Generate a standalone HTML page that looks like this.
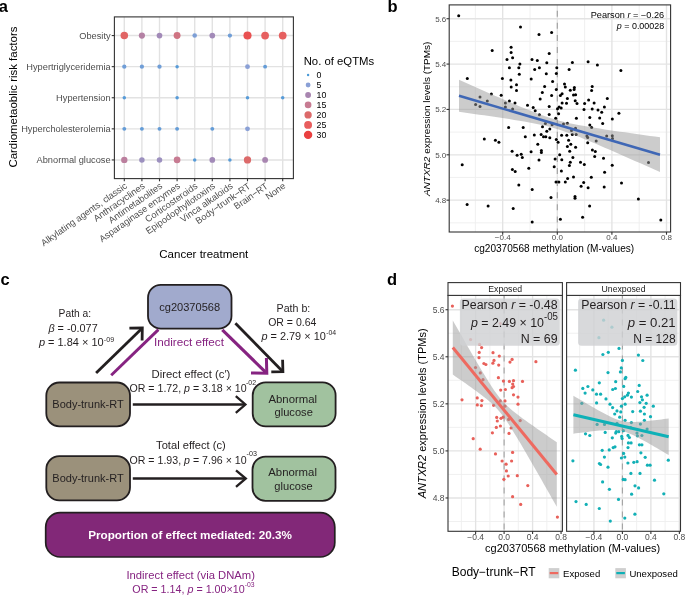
<!DOCTYPE html>
<html><head><meta charset="utf-8"><style>
html,body{margin:0;padding:0;background:#fff;}
body{width:685px;height:596px;overflow:hidden;}
svg{display:block;font-family:"Liberation Sans", sans-serif;will-change:transform;}
</style></head><body>
<svg width="685" height="596" viewBox="0 0 685 596">
<rect width="685" height="596" fill="#fff"/>
<g id="pa">
<text x="-1.20" y="11.80" font-size="16.5" text-anchor="start" fill="#000" font-weight="bold" font-style="normal">a</text>
<rect x="114.4" y="16.9" width="178.99999999999997" height="161.7" fill="#fff"/>
<line x1="124.30" y1="16.9" x2="124.30" y2="178.6" stroke="#e2e2e2" stroke-width="1.4"/>
<line x1="141.90" y1="16.9" x2="141.90" y2="178.6" stroke="#e2e2e2" stroke-width="1.4"/>
<line x1="159.50" y1="16.9" x2="159.50" y2="178.6" stroke="#e2e2e2" stroke-width="1.4"/>
<line x1="177.10" y1="16.9" x2="177.10" y2="178.6" stroke="#e2e2e2" stroke-width="1.4"/>
<line x1="194.70" y1="16.9" x2="194.70" y2="178.6" stroke="#e2e2e2" stroke-width="1.4"/>
<line x1="212.30" y1="16.9" x2="212.30" y2="178.6" stroke="#e2e2e2" stroke-width="1.4"/>
<line x1="229.90" y1="16.9" x2="229.90" y2="178.6" stroke="#e2e2e2" stroke-width="1.4"/>
<line x1="247.50" y1="16.9" x2="247.50" y2="178.6" stroke="#e2e2e2" stroke-width="1.4"/>
<line x1="265.10" y1="16.9" x2="265.10" y2="178.6" stroke="#e2e2e2" stroke-width="1.4"/>
<line x1="282.70" y1="16.9" x2="282.70" y2="178.6" stroke="#e2e2e2" stroke-width="1.4"/>
<line x1="114.4" y1="35.56" x2="293.4" y2="35.56" stroke="#e2e2e2" stroke-width="1.4"/>
<line x1="114.4" y1="66.65" x2="293.4" y2="66.65" stroke="#e2e2e2" stroke-width="1.4"/>
<line x1="114.4" y1="97.75" x2="293.4" y2="97.75" stroke="#e2e2e2" stroke-width="1.4"/>
<line x1="114.4" y1="128.85" x2="293.4" y2="128.85" stroke="#e2e2e2" stroke-width="1.4"/>
<line x1="114.4" y1="159.94" x2="293.4" y2="159.94" stroke="#e2e2e2" stroke-width="1.4"/>
<circle cx="124.30" cy="35.56" r="3.77" fill="#e16565"/>
<circle cx="141.90" cy="35.56" r="3.10" fill="#b481a4"/>
<circle cx="159.50" cy="35.56" r="2.84" fill="#a28ab8"/>
<circle cx="177.10" cy="35.56" r="3.46" fill="#cf7482"/>
<circle cx="194.70" cy="35.56" r="2.30" fill="#7d9fd6"/>
<circle cx="212.30" cy="35.56" r="2.84" fill="#a28ab8"/>
<circle cx="229.90" cy="35.56" r="2.15" fill="#709ed7"/>
<circle cx="247.50" cy="35.56" r="4.05" fill="#e95151"/>
<circle cx="265.10" cy="35.56" r="3.88" fill="#e66060"/>
<circle cx="282.70" cy="35.56" r="3.88" fill="#e66060"/>
<circle cx="124.30" cy="66.65" r="2.15" fill="#709ed7"/>
<circle cx="141.90" cy="66.65" r="2.15" fill="#709ed7"/>
<circle cx="159.50" cy="66.65" r="2.15" fill="#709ed7"/>
<circle cx="177.10" cy="66.65" r="1.75" fill="#579bd8"/>
<circle cx="247.50" cy="66.65" r="2.42" fill="#8aa0d6"/>
<circle cx="265.10" cy="66.65" r="1.97" fill="#649cd7"/>
<circle cx="124.30" cy="97.75" r="1.75" fill="#579bd8"/>
<circle cx="177.10" cy="97.75" r="1.75" fill="#579bd8"/>
<circle cx="247.50" cy="97.75" r="1.75" fill="#579bd8"/>
<circle cx="282.70" cy="97.75" r="1.75" fill="#579bd8"/>
<circle cx="124.30" cy="128.85" r="1.97" fill="#649cd7"/>
<circle cx="141.90" cy="128.85" r="1.97" fill="#649cd7"/>
<circle cx="159.50" cy="128.85" r="1.97" fill="#649cd7"/>
<circle cx="177.10" cy="128.85" r="1.97" fill="#649cd7"/>
<circle cx="212.30" cy="128.85" r="1.97" fill="#649cd7"/>
<circle cx="247.50" cy="128.85" r="2.42" fill="#8aa0d6"/>
<circle cx="124.30" cy="159.94" r="3.17" fill="#bb7f9e"/>
<circle cx="141.90" cy="159.94" r="2.75" fill="#9c90bf"/>
<circle cx="159.50" cy="159.94" r="2.75" fill="#9c90bf"/>
<circle cx="177.10" cy="159.94" r="3.32" fill="#c77b92"/>
<circle cx="194.70" cy="159.94" r="1.75" fill="#579bd8"/>
<circle cx="212.30" cy="159.94" r="2.84" fill="#a28ab8"/>
<circle cx="229.90" cy="159.94" r="1.75" fill="#579bd8"/>
<circle cx="247.50" cy="159.94" r="3.65" fill="#dc6a6a"/>
<circle cx="265.10" cy="159.94" r="2.93" fill="#a885b0"/>
<rect x="114.4" y="16.9" width="178.99999999999997" height="161.7" fill="none" stroke="#333" stroke-width="1.1"/>
<line x1="111.7" y1="35.56" x2="114.4" y2="35.56" stroke="#333" stroke-width="1.1"/>
<line x1="111.7" y1="66.65" x2="114.4" y2="66.65" stroke="#333" stroke-width="1.1"/>
<line x1="111.7" y1="97.75" x2="114.4" y2="97.75" stroke="#333" stroke-width="1.1"/>
<line x1="111.7" y1="128.85" x2="114.4" y2="128.85" stroke="#333" stroke-width="1.1"/>
<line x1="111.7" y1="159.94" x2="114.4" y2="159.94" stroke="#333" stroke-width="1.1"/>
<line x1="124.30" y1="178.6" x2="124.30" y2="181.29999999999998" stroke="#333" stroke-width="1.1"/>
<line x1="141.90" y1="178.6" x2="141.90" y2="181.29999999999998" stroke="#333" stroke-width="1.1"/>
<line x1="159.50" y1="178.6" x2="159.50" y2="181.29999999999998" stroke="#333" stroke-width="1.1"/>
<line x1="177.10" y1="178.6" x2="177.10" y2="181.29999999999998" stroke="#333" stroke-width="1.1"/>
<line x1="194.70" y1="178.6" x2="194.70" y2="181.29999999999998" stroke="#333" stroke-width="1.1"/>
<line x1="212.30" y1="178.6" x2="212.30" y2="181.29999999999998" stroke="#333" stroke-width="1.1"/>
<line x1="229.90" y1="178.6" x2="229.90" y2="181.29999999999998" stroke="#333" stroke-width="1.1"/>
<line x1="247.50" y1="178.6" x2="247.50" y2="181.29999999999998" stroke="#333" stroke-width="1.1"/>
<line x1="265.10" y1="178.6" x2="265.10" y2="181.29999999999998" stroke="#333" stroke-width="1.1"/>
<line x1="282.70" y1="178.6" x2="282.70" y2="181.29999999999998" stroke="#333" stroke-width="1.1"/>
<text x="110.60" y="38.86" font-size="9.26" text-anchor="end" fill="#4d4d4d" font-weight="normal" font-style="normal">Obesity</text>
<text x="110.60" y="69.95" font-size="9.26" text-anchor="end" fill="#4d4d4d" font-weight="normal" font-style="normal">Hypertriglyceridemia</text>
<text x="110.60" y="101.05" font-size="9.26" text-anchor="end" fill="#4d4d4d" font-weight="normal" font-style="normal">Hypertension</text>
<text x="110.60" y="132.15" font-size="9.26" text-anchor="end" fill="#4d4d4d" font-weight="normal" font-style="normal">Hypercholesterolemia</text>
<text x="110.60" y="163.24" font-size="9.26" text-anchor="end" fill="#4d4d4d" font-weight="normal" font-style="normal">Abnormal glucose</text>
<text x="127.90" y="187.40" font-size="9.26" text-anchor="end" fill="#4d4d4d" font-weight="normal" font-style="normal" transform="rotate(-35 127.90 187.40)">Alkylating agents, classic</text>
<text x="145.50" y="187.40" font-size="9.26" text-anchor="end" fill="#4d4d4d" font-weight="normal" font-style="normal" transform="rotate(-35 145.50 187.40)">Anthracyclines</text>
<text x="163.10" y="187.40" font-size="9.26" text-anchor="end" fill="#4d4d4d" font-weight="normal" font-style="normal" transform="rotate(-35 163.10 187.40)">Antimetabolites</text>
<text x="180.70" y="187.40" font-size="9.26" text-anchor="end" fill="#4d4d4d" font-weight="normal" font-style="normal" transform="rotate(-35 180.70 187.40)">Asparaginase enzymes</text>
<text x="198.30" y="187.40" font-size="9.26" text-anchor="end" fill="#4d4d4d" font-weight="normal" font-style="normal" transform="rotate(-35 198.30 187.40)">Corticosteroids</text>
<text x="215.90" y="187.40" font-size="9.26" text-anchor="end" fill="#4d4d4d" font-weight="normal" font-style="normal" transform="rotate(-35 215.90 187.40)">Epipodophyllotoxins</text>
<text x="233.50" y="187.40" font-size="9.26" text-anchor="end" fill="#4d4d4d" font-weight="normal" font-style="normal" transform="rotate(-35 233.50 187.40)">Vinca alkaloids</text>
<text x="251.10" y="187.40" font-size="9.26" text-anchor="end" fill="#4d4d4d" font-weight="normal" font-style="normal" transform="rotate(-35 251.10 187.40)">Body−trunk−RT</text>
<text x="268.70" y="187.40" font-size="9.26" text-anchor="end" fill="#4d4d4d" font-weight="normal" font-style="normal" transform="rotate(-35 268.70 187.40)">Brain−RT</text>
<text x="286.30" y="187.40" font-size="9.26" text-anchor="end" fill="#4d4d4d" font-weight="normal" font-style="normal" transform="rotate(-35 286.30 187.40)">None</text>
<text x="203.80" y="258.00" font-size="11.4" text-anchor="middle" fill="#000" font-weight="normal" font-style="normal" textLength="89.00" lengthAdjust="spacingAndGlyphs">Cancer treatment</text>
<text x="17.4" y="97.1" font-size="11.4" text-anchor="middle" transform="rotate(-90 17.4 97.1)" textLength="141" lengthAdjust="spacingAndGlyphs">Cardiometaoblic risk factors</text>
<text x="303.70" y="65.00" font-size="10.8" text-anchor="start" fill="#000" font-weight="normal" font-style="normal" textLength="70.50" lengthAdjust="spacingAndGlyphs">No. of eQTMs</text>
<circle cx="308.1" cy="75.00" r="1.20" fill="#4a9ad8"/>
<text x="316.60" y="78.20" font-size="8.8" text-anchor="start" fill="#000" font-weight="normal" font-style="normal">0</text>
<circle cx="308.1" cy="84.98" r="2.42" fill="#8aa0d6"/>
<text x="316.60" y="88.18" font-size="8.8" text-anchor="start" fill="#000" font-weight="normal" font-style="normal">5</text>
<circle cx="308.1" cy="94.96" r="2.93" fill="#a885b0"/>
<text x="316.60" y="98.16" font-size="8.8" text-anchor="start" fill="#000" font-weight="normal" font-style="normal">10</text>
<circle cx="308.1" cy="104.94" r="3.32" fill="#c77b92"/>
<text x="316.60" y="108.14" font-size="8.8" text-anchor="start" fill="#000" font-weight="normal" font-style="normal">15</text>
<circle cx="308.1" cy="114.92" r="3.65" fill="#dc6a6a"/>
<text x="316.60" y="118.12" font-size="8.8" text-anchor="start" fill="#000" font-weight="normal" font-style="normal">20</text>
<circle cx="308.1" cy="124.90" r="3.94" fill="#e85d5d"/>
<text x="316.60" y="128.10" font-size="8.8" text-anchor="start" fill="#000" font-weight="normal" font-style="normal">25</text>
<circle cx="308.1" cy="134.88" r="4.20" fill="#ea4040"/>
<text x="316.60" y="138.08" font-size="8.8" text-anchor="start" fill="#000" font-weight="normal" font-style="normal">30</text>
</g>
<g id="pb">
<text x="387.60" y="11.70" font-size="16.5" text-anchor="start" fill="#000" font-weight="bold" font-style="normal">b</text>
<rect x="449.2" y="4.9" width="221.40000000000003" height="227.1" fill="#fff"/>
<line x1="475.40" y1="4.9" x2="475.40" y2="232.0" stroke="#eeeeee" stroke-width="0.9"/>
<line x1="530.00" y1="4.9" x2="530.00" y2="232.0" stroke="#eeeeee" stroke-width="0.9"/>
<line x1="584.60" y1="4.9" x2="584.60" y2="232.0" stroke="#eeeeee" stroke-width="0.9"/>
<line x1="639.20" y1="4.9" x2="639.20" y2="232.0" stroke="#eeeeee" stroke-width="0.9"/>
<line x1="449.2" y1="41.40" x2="670.6" y2="41.40" stroke="#eeeeee" stroke-width="0.9"/>
<line x1="449.2" y1="86.76" x2="670.6" y2="86.76" stroke="#eeeeee" stroke-width="0.9"/>
<line x1="449.2" y1="132.12" x2="670.6" y2="132.12" stroke="#eeeeee" stroke-width="0.9"/>
<line x1="449.2" y1="177.48" x2="670.6" y2="177.48" stroke="#eeeeee" stroke-width="0.9"/>
<line x1="449.2" y1="222.84" x2="670.6" y2="222.84" stroke="#eeeeee" stroke-width="0.9"/>
<line x1="502.70" y1="4.9" x2="502.70" y2="232.0" stroke="#e3e3e3" stroke-width="1.35"/>
<line x1="557.30" y1="4.9" x2="557.30" y2="232.0" stroke="#e3e3e3" stroke-width="1.35"/>
<line x1="611.90" y1="4.9" x2="611.90" y2="232.0" stroke="#e3e3e3" stroke-width="1.35"/>
<line x1="666.50" y1="4.9" x2="666.50" y2="232.0" stroke="#e3e3e3" stroke-width="1.35"/>
<line x1="449.2" y1="18.72" x2="670.6" y2="18.72" stroke="#e3e3e3" stroke-width="1.35"/>
<line x1="449.2" y1="64.08" x2="670.6" y2="64.08" stroke="#e3e3e3" stroke-width="1.35"/>
<line x1="449.2" y1="109.44" x2="670.6" y2="109.44" stroke="#e3e3e3" stroke-width="1.35"/>
<line x1="449.2" y1="154.80" x2="670.6" y2="154.80" stroke="#e3e3e3" stroke-width="1.35"/>
<line x1="449.2" y1="200.16" x2="670.6" y2="200.16" stroke="#e3e3e3" stroke-width="1.35"/>
<line x1="557.30" y1="4.9" x2="557.30" y2="232.0" stroke="#9e9e9e" stroke-width="1.1" stroke-dasharray="6 6.1" stroke-dashoffset="6.30"/>
<circle cx="458.7" cy="15.7" r="1.5" fill="#000"/>
<circle cx="520.5" cy="27.0" r="1.5" fill="#000"/>
<circle cx="492.2" cy="50.4" r="1.5" fill="#000"/>
<circle cx="511.1" cy="47.2" r="1.5" fill="#000"/>
<circle cx="511.1" cy="52.5" r="1.5" fill="#000"/>
<circle cx="512.6" cy="57.7" r="1.5" fill="#000"/>
<circle cx="507.0" cy="59.4" r="1.5" fill="#000"/>
<circle cx="519.9" cy="64.1" r="1.5" fill="#000"/>
<circle cx="509.4" cy="67.7" r="1.5" fill="#000"/>
<circle cx="518.8" cy="67.7" r="1.5" fill="#000"/>
<circle cx="539.0" cy="34.6" r="1.5" fill="#000"/>
<circle cx="551.6" cy="32.5" r="1.5" fill="#000"/>
<circle cx="549.2" cy="53.6" r="1.5" fill="#000"/>
<circle cx="532.0" cy="59.5" r="1.5" fill="#000"/>
<circle cx="537.3" cy="60.6" r="1.5" fill="#000"/>
<circle cx="546.8" cy="62.7" r="1.5" fill="#000"/>
<circle cx="572.4" cy="62.6" r="1.5" fill="#000"/>
<circle cx="588.1" cy="61.7" r="1.5" fill="#000"/>
<circle cx="597.4" cy="65.0" r="1.5" fill="#000"/>
<circle cx="539.4" cy="67.7" r="1.5" fill="#000"/>
<circle cx="556.8" cy="67.7" r="1.5" fill="#000"/>
<circle cx="519.3" cy="74.3" r="1.5" fill="#000"/>
<circle cx="467.3" cy="78.4" r="1.5" fill="#000"/>
<circle cx="502.4" cy="78.4" r="1.5" fill="#000"/>
<circle cx="510.9" cy="80.1" r="1.5" fill="#000"/>
<circle cx="516.5" cy="84.8" r="1.5" fill="#000"/>
<circle cx="511.2" cy="86.9" r="1.5" fill="#000"/>
<circle cx="516.5" cy="90.4" r="1.5" fill="#000"/>
<circle cx="491.4" cy="93.9" r="1.5" fill="#000"/>
<circle cx="501.2" cy="95.3" r="1.5" fill="#000"/>
<circle cx="480.0" cy="97.0" r="1.5" fill="#000"/>
<circle cx="487.3" cy="100.9" r="1.5" fill="#000"/>
<circle cx="475.6" cy="104.6" r="1.5" fill="#000"/>
<circle cx="480.0" cy="106.4" r="1.5" fill="#000"/>
<circle cx="505.4" cy="102.9" r="1.5" fill="#000"/>
<circle cx="509.4" cy="101.1" r="1.5" fill="#000"/>
<circle cx="515.0" cy="102.9" r="1.5" fill="#000"/>
<circle cx="505.4" cy="107.0" r="1.5" fill="#000"/>
<circle cx="512.6" cy="109.0" r="1.5" fill="#000"/>
<circle cx="527.5" cy="105.2" r="1.5" fill="#000"/>
<circle cx="534.7" cy="69.6" r="1.5" fill="#000"/>
<circle cx="569.1" cy="69.6" r="1.5" fill="#000"/>
<circle cx="546.3" cy="73.7" r="1.5" fill="#000"/>
<circle cx="556.3" cy="73.4" r="1.5" fill="#000"/>
<circle cx="531.2" cy="79.1" r="1.5" fill="#000"/>
<circle cx="552.6" cy="81.6" r="1.5" fill="#000"/>
<circle cx="564.5" cy="84.0" r="1.5" fill="#000"/>
<circle cx="544.6" cy="86.5" r="1.5" fill="#000"/>
<circle cx="565.3" cy="87.1" r="1.5" fill="#000"/>
<circle cx="574.4" cy="87.5" r="1.5" fill="#000"/>
<circle cx="574.1" cy="89.6" r="1.5" fill="#000"/>
<circle cx="570.3" cy="90.3" r="1.5" fill="#000"/>
<circle cx="556.3" cy="89.6" r="1.5" fill="#000"/>
<circle cx="592.2" cy="86.5" r="1.5" fill="#000"/>
<circle cx="591.6" cy="90.4" r="1.5" fill="#000"/>
<circle cx="542.3" cy="92.4" r="1.5" fill="#000"/>
<circle cx="551.6" cy="95.6" r="1.5" fill="#000"/>
<circle cx="562.1" cy="93.8" r="1.5" fill="#000"/>
<circle cx="560.4" cy="95.6" r="1.5" fill="#000"/>
<circle cx="573.5" cy="95.1" r="1.5" fill="#000"/>
<circle cx="575.6" cy="94.7" r="1.5" fill="#000"/>
<circle cx="540.2" cy="99.0" r="1.5" fill="#000"/>
<circle cx="567.4" cy="98.6" r="1.5" fill="#000"/>
<circle cx="575.2" cy="100.8" r="1.5" fill="#000"/>
<circle cx="577.0" cy="103.5" r="1.5" fill="#000"/>
<circle cx="562.1" cy="102.9" r="1.5" fill="#000"/>
<circle cx="566.5" cy="103.2" r="1.5" fill="#000"/>
<circle cx="588.6" cy="100.0" r="1.5" fill="#000"/>
<circle cx="584.6" cy="103.5" r="1.5" fill="#000"/>
<circle cx="594.1" cy="102.9" r="1.5" fill="#000"/>
<circle cx="533.2" cy="107.5" r="1.5" fill="#000"/>
<circle cx="535.2" cy="110.8" r="1.5" fill="#000"/>
<circle cx="549.2" cy="106.6" r="1.5" fill="#000"/>
<circle cx="557.5" cy="108.7" r="1.5" fill="#000"/>
<circle cx="559.1" cy="107.0" r="1.5" fill="#000"/>
<circle cx="561.2" cy="108.1" r="1.5" fill="#000"/>
<circle cx="558.6" cy="113.7" r="1.5" fill="#000"/>
<circle cx="549.2" cy="114.6" r="1.5" fill="#000"/>
<circle cx="539.4" cy="114.8" r="1.5" fill="#000"/>
<circle cx="555.7" cy="118.3" r="1.5" fill="#000"/>
<circle cx="584.0" cy="109.6" r="1.5" fill="#000"/>
<circle cx="592.2" cy="108.9" r="1.5" fill="#000"/>
<circle cx="598.0" cy="109.9" r="1.5" fill="#000"/>
<circle cx="601.7" cy="112.2" r="1.5" fill="#000"/>
<circle cx="604.4" cy="107.0" r="1.5" fill="#000"/>
<circle cx="576.4" cy="118.3" r="1.5" fill="#000"/>
<circle cx="589.8" cy="117.5" r="1.5" fill="#000"/>
<circle cx="599.7" cy="118.1" r="1.5" fill="#000"/>
<circle cx="602.7" cy="123.5" r="1.5" fill="#000"/>
<circle cx="589.8" cy="125.1" r="1.5" fill="#000"/>
<circle cx="545.4" cy="123.5" r="1.5" fill="#000"/>
<circle cx="567.4" cy="123.3" r="1.5" fill="#000"/>
<circle cx="563.5" cy="123.9" r="1.5" fill="#000"/>
<circle cx="620.9" cy="70.6" r="1.5" fill="#000"/>
<circle cx="607.3" cy="98.4" r="1.5" fill="#000"/>
<circle cx="612.3" cy="119.0" r="1.5" fill="#000"/>
<circle cx="618.9" cy="113.2" r="1.5" fill="#000"/>
<circle cx="508.6" cy="127.4" r="1.5" fill="#000"/>
<circle cx="523.2" cy="127.4" r="1.5" fill="#000"/>
<circle cx="525.3" cy="136.7" r="1.5" fill="#000"/>
<circle cx="484.3" cy="138.9" r="1.5" fill="#000"/>
<circle cx="495.4" cy="140.2" r="1.5" fill="#000"/>
<circle cx="498.9" cy="142.2" r="1.5" fill="#000"/>
<circle cx="512.1" cy="151.3" r="1.5" fill="#000"/>
<circle cx="517.1" cy="155.3" r="1.5" fill="#000"/>
<circle cx="521.2" cy="154.3" r="1.5" fill="#000"/>
<circle cx="522.3" cy="157.6" r="1.5" fill="#000"/>
<circle cx="462.2" cy="164.7" r="1.5" fill="#000"/>
<circle cx="512.4" cy="169.4" r="1.5" fill="#000"/>
<circle cx="515.2" cy="171.4" r="1.5" fill="#000"/>
<circle cx="528.8" cy="168.2" r="1.5" fill="#000"/>
<circle cx="552.1" cy="124.7" r="1.5" fill="#000"/>
<circle cx="591.6" cy="127.6" r="1.5" fill="#000"/>
<circle cx="542.5" cy="126.7" r="1.5" fill="#000"/>
<circle cx="549.8" cy="129.1" r="1.5" fill="#000"/>
<circle cx="546.8" cy="131.3" r="1.5" fill="#000"/>
<circle cx="575.5" cy="128.2" r="1.5" fill="#000"/>
<circle cx="571.5" cy="130.5" r="1.5" fill="#000"/>
<circle cx="572.3" cy="134.6" r="1.5" fill="#000"/>
<circle cx="576.2" cy="134.6" r="1.5" fill="#000"/>
<circle cx="586.9" cy="136.1" r="1.5" fill="#000"/>
<circle cx="587.7" cy="137.5" r="1.5" fill="#000"/>
<circle cx="596.2" cy="141.0" r="1.5" fill="#000"/>
<circle cx="587.7" cy="142.8" r="1.5" fill="#000"/>
<circle cx="534.3" cy="134.9" r="1.5" fill="#000"/>
<circle cx="541.1" cy="134.6" r="1.5" fill="#000"/>
<circle cx="543.5" cy="136.7" r="1.5" fill="#000"/>
<circle cx="545.8" cy="136.7" r="1.5" fill="#000"/>
<circle cx="549.8" cy="137.8" r="1.5" fill="#000"/>
<circle cx="561.6" cy="135.2" r="1.5" fill="#000"/>
<circle cx="566.8" cy="135.2" r="1.5" fill="#000"/>
<circle cx="556.3" cy="139.6" r="1.5" fill="#000"/>
<circle cx="558.1" cy="142.2" r="1.5" fill="#000"/>
<circle cx="568.6" cy="140.2" r="1.5" fill="#000"/>
<circle cx="537.8" cy="144.2" r="1.5" fill="#000"/>
<circle cx="570.8" cy="144.3" r="1.5" fill="#000"/>
<circle cx="567.4" cy="146.5" r="1.5" fill="#000"/>
<circle cx="575.6" cy="147.2" r="1.5" fill="#000"/>
<circle cx="531.1" cy="151.8" r="1.5" fill="#000"/>
<circle cx="541.4" cy="150.4" r="1.5" fill="#000"/>
<circle cx="541.4" cy="152.5" r="1.5" fill="#000"/>
<circle cx="569.7" cy="151.3" r="1.5" fill="#000"/>
<circle cx="592.4" cy="150.0" r="1.5" fill="#000"/>
<circle cx="595.3" cy="151.5" r="1.5" fill="#000"/>
<circle cx="559.7" cy="154.7" r="1.5" fill="#000"/>
<circle cx="594.7" cy="156.4" r="1.5" fill="#000"/>
<circle cx="603.5" cy="158.3" r="1.5" fill="#000"/>
<circle cx="539.0" cy="160.1" r="1.5" fill="#000"/>
<circle cx="555.1" cy="158.9" r="1.5" fill="#000"/>
<circle cx="561.8" cy="159.7" r="1.5" fill="#000"/>
<circle cx="572.9" cy="157.6" r="1.5" fill="#000"/>
<circle cx="570.3" cy="162.3" r="1.5" fill="#000"/>
<circle cx="580.5" cy="162.3" r="1.5" fill="#000"/>
<circle cx="584.3" cy="164.4" r="1.5" fill="#000"/>
<circle cx="569.4" cy="165.5" r="1.5" fill="#000"/>
<circle cx="554.2" cy="166.7" r="1.5" fill="#000"/>
<circle cx="561.4" cy="171.0" r="1.5" fill="#000"/>
<circle cx="604.6" cy="172.3" r="1.5" fill="#000"/>
<circle cx="567.6" cy="178.4" r="1.5" fill="#000"/>
<circle cx="573.5" cy="177.0" r="1.5" fill="#000"/>
<circle cx="591.3" cy="177.2" r="1.5" fill="#000"/>
<circle cx="556.0" cy="181.9" r="1.5" fill="#000"/>
<circle cx="558.9" cy="181.9" r="1.5" fill="#000"/>
<circle cx="565.3" cy="181.9" r="1.5" fill="#000"/>
<circle cx="583.7" cy="182.5" r="1.5" fill="#000"/>
<circle cx="606.7" cy="136.1" r="1.5" fill="#000"/>
<circle cx="612.3" cy="135.8" r="1.5" fill="#000"/>
<circle cx="612.5" cy="138.5" r="1.5" fill="#000"/>
<circle cx="612.2" cy="165.3" r="1.5" fill="#000"/>
<circle cx="648.5" cy="162.6" r="1.5" fill="#000"/>
<circle cx="621.5" cy="183.1" r="1.5" fill="#000"/>
<circle cx="518.8" cy="185.1" r="1.5" fill="#000"/>
<circle cx="467.1" cy="204.5" r="1.5" fill="#000"/>
<circle cx="488.1" cy="206.1" r="1.5" fill="#000"/>
<circle cx="513.2" cy="208.5" r="1.5" fill="#000"/>
<circle cx="532.2" cy="189.4" r="1.5" fill="#000"/>
<circle cx="581.1" cy="186.3" r="1.5" fill="#000"/>
<circle cx="588.1" cy="187.7" r="1.5" fill="#000"/>
<circle cx="604.2" cy="187.1" r="1.5" fill="#000"/>
<circle cx="551.0" cy="197.4" r="1.5" fill="#000"/>
<circle cx="575.0" cy="196.4" r="1.5" fill="#000"/>
<circle cx="575.0" cy="198.2" r="1.5" fill="#000"/>
<circle cx="589.6" cy="205.9" r="1.5" fill="#000"/>
<circle cx="560.4" cy="219.2" r="1.5" fill="#000"/>
<circle cx="582.6" cy="217.2" r="1.5" fill="#000"/>
<circle cx="532.2" cy="221.9" r="1.5" fill="#000"/>
<circle cx="638.4" cy="199.0" r="1.5" fill="#000"/>
<circle cx="660.8" cy="220.0" r="1.5" fill="#000"/>
<polygon points="459.00,79.80 464.02,82.04 469.05,84.28 474.07,86.52 479.10,88.75 484.12,90.97 489.15,93.19 494.18,95.40 499.20,97.59 504.23,99.78 509.25,101.95 514.27,104.09 519.30,106.22 524.33,108.30 529.35,110.35 534.38,112.33 539.40,114.24 544.42,116.05 549.45,117.75 554.48,119.30 559.50,120.72 564.52,122.00 569.55,123.15 574.58,124.21 579.60,125.18 584.62,126.10 589.65,126.96 594.67,127.79 599.70,128.59 604.73,129.38 609.75,130.14 614.77,130.89 619.80,131.63 624.83,132.36 629.85,133.08 634.88,133.80 639.90,134.51 644.92,135.22 649.95,135.92 654.98,136.62 660.00,137.31 660.00,172.09 654.98,169.84 649.95,167.59 644.92,165.35 639.90,163.11 634.88,160.88 629.85,158.65 624.83,156.43 619.80,154.21 614.77,152.01 609.75,149.81 604.73,147.63 599.70,145.47 594.67,143.32 589.65,141.21 584.62,139.13 579.60,137.10 574.58,135.13 569.55,133.24 564.52,131.45 559.50,129.78 554.48,128.25 549.45,126.86 544.42,125.61 539.40,124.48 534.38,123.45 529.35,122.48 524.33,121.58 519.30,120.72 514.27,119.90 509.25,119.10 504.23,118.33 499.20,117.57 494.18,116.82 489.15,116.08 484.12,115.35 479.10,114.63 474.07,113.92 469.05,113.21 464.02,112.50 459.00,111.80" fill="#999" fill-opacity="0.5"/>
<line x1="459.0" y1="95.8" x2="660.0" y2="154.7" stroke="#3f67b5" stroke-width="2.6"/>
<rect x="449.2" y="4.9" width="221.40000000000003" height="227.1" fill="none" stroke="#333" stroke-width="1.1"/>
<line x1="446.5" y1="18.72" x2="449.2" y2="18.72" stroke="#333" stroke-width="1.1"/>
<text x="446.30" y="21.52" font-size="8.0" text-anchor="end" fill="#4d4d4d" font-weight="normal" font-style="normal">5.6</text>
<line x1="446.5" y1="64.08" x2="449.2" y2="64.08" stroke="#333" stroke-width="1.1"/>
<text x="446.30" y="66.88" font-size="8.0" text-anchor="end" fill="#4d4d4d" font-weight="normal" font-style="normal">5.4</text>
<line x1="446.5" y1="109.44" x2="449.2" y2="109.44" stroke="#333" stroke-width="1.1"/>
<text x="446.30" y="112.24" font-size="8.0" text-anchor="end" fill="#4d4d4d" font-weight="normal" font-style="normal">5.2</text>
<line x1="446.5" y1="154.80" x2="449.2" y2="154.80" stroke="#333" stroke-width="1.1"/>
<text x="446.30" y="157.60" font-size="8.0" text-anchor="end" fill="#4d4d4d" font-weight="normal" font-style="normal">5.0</text>
<line x1="446.5" y1="200.16" x2="449.2" y2="200.16" stroke="#333" stroke-width="1.1"/>
<text x="446.30" y="202.96" font-size="8.0" text-anchor="end" fill="#4d4d4d" font-weight="normal" font-style="normal">4.8</text>
<line x1="502.70" y1="232.0" x2="502.70" y2="234.7" stroke="#333" stroke-width="1.1"/>
<text x="502.70" y="240.20" font-size="8.0" text-anchor="middle" fill="#4d4d4d" font-weight="normal" font-style="normal">−0.4</text>
<line x1="557.30" y1="232.0" x2="557.30" y2="234.7" stroke="#333" stroke-width="1.1"/>
<text x="557.30" y="240.20" font-size="8.0" text-anchor="middle" fill="#4d4d4d" font-weight="normal" font-style="normal">0.0</text>
<line x1="611.90" y1="232.0" x2="611.90" y2="234.7" stroke="#333" stroke-width="1.1"/>
<text x="611.90" y="240.20" font-size="8.0" text-anchor="middle" fill="#4d4d4d" font-weight="normal" font-style="normal">0.4</text>
<line x1="666.50" y1="232.0" x2="666.50" y2="234.7" stroke="#333" stroke-width="1.1"/>
<text x="666.50" y="240.20" font-size="8.0" text-anchor="middle" fill="#4d4d4d" font-weight="normal" font-style="normal">0.8</text>
<text x="554.20" y="251.90" font-size="10.1" text-anchor="middle" fill="#000" font-weight="normal" font-style="normal" textLength="160.00" lengthAdjust="spacingAndGlyphs">cg20370568 methylation (M-values)</text>
<text x="430.4" y="118.8" font-size="9.5" text-anchor="middle" transform="rotate(-90 430.4 118.8)" textLength="154.5" lengthAdjust="spacingAndGlyphs"><tspan font-style="italic">ANTXR2</tspan> expression levels (TPMs)</text>
<text x="664.20" y="17.90" font-size="8.4" text-anchor="end" fill="#000" font-weight="normal" font-style="normal" textLength="73.50" lengthAdjust="spacingAndGlyphs">Pearson <tspan font-style="italic">r</tspan> = −0.26</text>
<text x="664.20" y="29.00" font-size="8.4" text-anchor="end" fill="#000" font-weight="normal" font-style="normal" textLength="47.40" lengthAdjust="spacingAndGlyphs"><tspan font-style="italic">p</tspan> = 0.00028</text>
</g>
<g id="pc">
<text x="0.60" y="285.00" font-size="16.5" text-anchor="start" fill="#000" font-weight="bold" font-style="normal">c</text>
<rect x="148.0" y="284.9" width="83.50" height="43.80" rx="12.8" ry="12.8" fill="#a1aacd" stroke="#231f20" stroke-width="1.8"/>
<text x="189.70" y="310.90" font-size="11" text-anchor="middle" fill="#231f20" font-weight="normal" font-style="normal" textLength="61.00" lengthAdjust="spacingAndGlyphs">cg20370568</text>
<text x="58.60" y="317.10" font-size="11" text-anchor="start" fill="#231f20" font-weight="normal" font-style="normal" textLength="32.50" lengthAdjust="spacingAndGlyphs">Path a:</text>
<text x="48.40" y="331.50" font-size="11" text-anchor="start" fill="#231f20" font-weight="normal" font-style="normal" textLength="49.30" lengthAdjust="spacingAndGlyphs"><tspan font-style="italic">β</tspan> = -0.077</text>
<text x="38.90" y="346.00" font-size="11" text-anchor="start" fill="#231f20" font-weight="normal" font-style="normal" textLength="64.70" lengthAdjust="spacingAndGlyphs"><tspan font-style="italic">p</tspan> = 1.84 × 10</text>
<text x="103.80" y="341.80" font-size="8" text-anchor="start" fill="#231f20" font-weight="normal" font-style="normal" textLength="10.30" lengthAdjust="spacingAndGlyphs">-09</text>
<text x="276.60" y="311.80" font-size="11" text-anchor="start" fill="#231f20" font-weight="normal" font-style="normal" textLength="33.70" lengthAdjust="spacingAndGlyphs">Path b:</text>
<text x="268.20" y="326.40" font-size="11" text-anchor="start" fill="#231f20" font-weight="normal" font-style="normal" textLength="48.20" lengthAdjust="spacingAndGlyphs">OR = 0.64</text>
<text x="261.40" y="340.30" font-size="11" text-anchor="start" fill="#231f20" font-weight="normal" font-style="normal" textLength="64.40" lengthAdjust="spacingAndGlyphs"><tspan font-style="italic">p</tspan> = 2.79 × 10</text>
<text x="326.20" y="335.00" font-size="8" text-anchor="start" fill="#231f20" font-weight="normal" font-style="normal" textLength="10.00" lengthAdjust="spacingAndGlyphs">-04</text>
<text x="153.90" y="346.30" font-size="11" text-anchor="start" fill="#862381" font-weight="normal" font-style="normal" textLength="70.10" lengthAdjust="spacingAndGlyphs">Indirect effect</text>
<line x1="96.1" y1="373.1" x2="141.6" y2="328.8" stroke="#231f20" stroke-width="2.8" stroke-linecap="butt"/>
<polyline points="129.4,328.2 142.3,328.0 142.1,340.6" fill="none" stroke="#231f20" stroke-width="2.8" stroke-linejoin="miter" stroke-miterlimit="10"/>
<line x1="111.2" y1="375.2" x2="158.4" y2="329.6" stroke="#862381" stroke-width="2.9" stroke-linecap="butt"/>
<line x1="222.3" y1="329.9" x2="266.3" y2="372.8" stroke="#862381" stroke-width="3.1" stroke-linecap="butt"/>
<polyline points="251.0,373.0 266.8,373.3 266.4,358.0" fill="none" stroke="#862381" stroke-width="3.0" stroke-linejoin="miter" stroke-miterlimit="10"/>
<line x1="235.4" y1="323.3" x2="282.2" y2="370.9" stroke="#231f20" stroke-width="2.8" stroke-linecap="butt"/>
<polyline points="271.3,371.8 282.9,371.7 282.6,359.7" fill="none" stroke="#231f20" stroke-width="2.8" stroke-linejoin="miter" stroke-miterlimit="10"/>
<text x="151.60" y="377.70" font-size="11" text-anchor="start" fill="#231f20" font-weight="normal" font-style="normal" textLength="78.70" lengthAdjust="spacingAndGlyphs">Direct effect (c′)</text>
<text x="129.50" y="392.20" font-size="11" text-anchor="start" fill="#231f20" font-weight="normal" font-style="normal" textLength="117.10" lengthAdjust="spacingAndGlyphs">OR = 1.72, <tspan font-style="italic">p</tspan> = 3.18 × 10</text>
<text x="246.00" y="384.80" font-size="8" text-anchor="start" fill="#231f20" font-weight="normal" font-style="normal" textLength="10.00" lengthAdjust="spacingAndGlyphs">-02</text>
<rect x="46.3" y="382.5" width="83.70" height="43.80" rx="13" ry="13" fill="#9b917b" stroke="#231f20" stroke-width="1.8"/>
<text x="88.00" y="407.90" font-size="11" text-anchor="middle" fill="#231f20" font-weight="normal" font-style="normal" textLength="71.30" lengthAdjust="spacingAndGlyphs">Body-trunk-RT</text>
<rect x="252.7" y="382.3" width="82.90" height="44.10" rx="13" ry="13" fill="#a1c29f" stroke="#231f20" stroke-width="1.8"/>
<text x="292.80" y="402.60" font-size="11" text-anchor="middle" fill="#231f20" font-weight="normal" font-style="normal" textLength="48.70" lengthAdjust="spacingAndGlyphs">Abnormal</text>
<text x="293.70" y="416.40" font-size="11" text-anchor="middle" fill="#231f20" font-weight="normal" font-style="normal" textLength="38.30" lengthAdjust="spacingAndGlyphs">glucose</text>
<line x1="132.8" y1="404.5" x2="244.6" y2="404.5" stroke="#231f20" stroke-width="2.3" stroke-linecap="butt"/>
<polyline points="235.8,396.2 245.4,404.5 235.8,412.8" fill="none" stroke="#231f20" stroke-width="2.3" stroke-linejoin="miter" stroke-miterlimit="10"/>
<text x="156.10" y="448.90" font-size="11" text-anchor="start" fill="#231f20" font-weight="normal" font-style="normal" textLength="69.70" lengthAdjust="spacingAndGlyphs">Total effect (c)</text>
<text x="129.50" y="463.60" font-size="11" text-anchor="start" fill="#231f20" font-weight="normal" font-style="normal" textLength="117.10" lengthAdjust="spacingAndGlyphs">OR = 1.93, <tspan font-style="italic">p</tspan> = 7.96 × 10</text>
<text x="246.60" y="455.70" font-size="8" text-anchor="start" fill="#231f20" font-weight="normal" font-style="normal" textLength="10.30" lengthAdjust="spacingAndGlyphs">-03</text>
<rect x="46.3" y="456.2" width="83.70" height="44.20" rx="13" ry="13" fill="#9b917b" stroke="#231f20" stroke-width="1.8"/>
<text x="88.00" y="481.90" font-size="11" text-anchor="middle" fill="#231f20" font-weight="normal" font-style="normal" textLength="71.30" lengthAdjust="spacingAndGlyphs">Body-trunk-RT</text>
<rect x="252.5" y="456.6" width="83.00" height="44.20" rx="13" ry="13" fill="#a1c29f" stroke="#231f20" stroke-width="1.8"/>
<text x="292.60" y="475.90" font-size="11" text-anchor="middle" fill="#231f20" font-weight="normal" font-style="normal" textLength="48.70" lengthAdjust="spacingAndGlyphs">Abnormal</text>
<text x="293.50" y="489.80" font-size="11" text-anchor="middle" fill="#231f20" font-weight="normal" font-style="normal" textLength="38.30" lengthAdjust="spacingAndGlyphs">glucose</text>
<line x1="132.8" y1="478.5" x2="245.0" y2="478.5" stroke="#231f20" stroke-width="2.3" stroke-linecap="butt"/>
<polyline points="236.0,470.4 245.8,478.5 236.0,486.8" fill="none" stroke="#231f20" stroke-width="2.3" stroke-linejoin="miter" stroke-miterlimit="10"/>
<rect x="45.7" y="512.7" width="289.10" height="44.30" rx="14.5" ry="14.5" fill="#822878" stroke="#231f20" stroke-width="1.7"/>
<text x="190.00" y="538.60" font-size="11.8" text-anchor="middle" fill="#fff" font-weight="bold" font-style="normal" textLength="203.70" lengthAdjust="spacingAndGlyphs">Proportion of effect mediated: 20.3%</text>
<text x="126.50" y="579.40" font-size="11" text-anchor="start" fill="#862381" font-weight="normal" font-style="normal" textLength="128.40" lengthAdjust="spacingAndGlyphs">Indirect effect (via DNAm)</text>
<text x="132.30" y="593.40" font-size="11" text-anchor="start" fill="#862381" font-weight="normal" font-style="normal" textLength="112.40" lengthAdjust="spacingAndGlyphs">OR = 1.14, <tspan font-style="italic">p</tspan> = 1.00×10</text>
<text x="244.70" y="587.40" font-size="8" text-anchor="start" fill="#862381" font-weight="normal" font-style="normal" textLength="9.80" lengthAdjust="spacingAndGlyphs">-03</text>
</g>
<g id="pd">
<text x="387.00" y="284.70" font-size="16.5" text-anchor="start" fill="#000" font-weight="bold" font-style="normal">d</text>
<rect x="448.0" y="295.4" width="114.40" height="235.90" fill="#fff"/>
<line x1="461.38" y1="295.4" x2="461.38" y2="531.3" stroke="#eeeeee" stroke-width="0.9"/>
<line x1="489.86" y1="295.4" x2="489.86" y2="531.3" stroke="#eeeeee" stroke-width="0.9"/>
<line x1="518.34" y1="295.4" x2="518.34" y2="531.3" stroke="#eeeeee" stroke-width="0.9"/>
<line x1="546.82" y1="295.4" x2="546.82" y2="531.3" stroke="#eeeeee" stroke-width="0.9"/>
<line x1="448.0" y1="333.25" x2="562.4" y2="333.25" stroke="#eeeeee" stroke-width="0.9"/>
<line x1="448.0" y1="380.31" x2="562.4" y2="380.31" stroke="#eeeeee" stroke-width="0.9"/>
<line x1="448.0" y1="427.37" x2="562.4" y2="427.37" stroke="#eeeeee" stroke-width="0.9"/>
<line x1="448.0" y1="474.43" x2="562.4" y2="474.43" stroke="#eeeeee" stroke-width="0.9"/>
<line x1="448.0" y1="521.49" x2="562.4" y2="521.49" stroke="#eeeeee" stroke-width="0.9"/>
<line x1="475.62" y1="295.4" x2="475.62" y2="531.3" stroke="#e3e3e3" stroke-width="1.35"/>
<line x1="504.10" y1="295.4" x2="504.10" y2="531.3" stroke="#e3e3e3" stroke-width="1.35"/>
<line x1="532.58" y1="295.4" x2="532.58" y2="531.3" stroke="#e3e3e3" stroke-width="1.35"/>
<line x1="561.06" y1="295.4" x2="561.06" y2="531.3" stroke="#e3e3e3" stroke-width="1.35"/>
<line x1="448.0" y1="309.72" x2="562.4" y2="309.72" stroke="#e3e3e3" stroke-width="1.35"/>
<line x1="448.0" y1="356.78" x2="562.4" y2="356.78" stroke="#e3e3e3" stroke-width="1.35"/>
<line x1="448.0" y1="403.84" x2="562.4" y2="403.84" stroke="#e3e3e3" stroke-width="1.35"/>
<line x1="448.0" y1="450.90" x2="562.4" y2="450.90" stroke="#e3e3e3" stroke-width="1.35"/>
<line x1="448.0" y1="497.96" x2="562.4" y2="497.96" stroke="#e3e3e3" stroke-width="1.35"/>
<line x1="504.10" y1="295.4" x2="504.10" y2="531.3" stroke="#a3a3a3" stroke-width="1.1" stroke-dasharray="6 6"/>
<rect x="566.6" y="295.4" width="113.90" height="235.90" fill="#fff"/>
<line x1="579.68" y1="295.4" x2="579.68" y2="531.3" stroke="#eeeeee" stroke-width="0.9"/>
<line x1="608.16" y1="295.4" x2="608.16" y2="531.3" stroke="#eeeeee" stroke-width="0.9"/>
<line x1="636.64" y1="295.4" x2="636.64" y2="531.3" stroke="#eeeeee" stroke-width="0.9"/>
<line x1="665.12" y1="295.4" x2="665.12" y2="531.3" stroke="#eeeeee" stroke-width="0.9"/>
<line x1="566.6" y1="333.25" x2="680.5" y2="333.25" stroke="#eeeeee" stroke-width="0.9"/>
<line x1="566.6" y1="380.31" x2="680.5" y2="380.31" stroke="#eeeeee" stroke-width="0.9"/>
<line x1="566.6" y1="427.37" x2="680.5" y2="427.37" stroke="#eeeeee" stroke-width="0.9"/>
<line x1="566.6" y1="474.43" x2="680.5" y2="474.43" stroke="#eeeeee" stroke-width="0.9"/>
<line x1="566.6" y1="521.49" x2="680.5" y2="521.49" stroke="#eeeeee" stroke-width="0.9"/>
<line x1="593.92" y1="295.4" x2="593.92" y2="531.3" stroke="#e3e3e3" stroke-width="1.35"/>
<line x1="622.40" y1="295.4" x2="622.40" y2="531.3" stroke="#e3e3e3" stroke-width="1.35"/>
<line x1="650.88" y1="295.4" x2="650.88" y2="531.3" stroke="#e3e3e3" stroke-width="1.35"/>
<line x1="679.36" y1="295.4" x2="679.36" y2="531.3" stroke="#e3e3e3" stroke-width="1.35"/>
<line x1="566.6" y1="309.72" x2="680.5" y2="309.72" stroke="#e3e3e3" stroke-width="1.35"/>
<line x1="566.6" y1="356.78" x2="680.5" y2="356.78" stroke="#e3e3e3" stroke-width="1.35"/>
<line x1="566.6" y1="403.84" x2="680.5" y2="403.84" stroke="#e3e3e3" stroke-width="1.35"/>
<line x1="566.6" y1="450.90" x2="680.5" y2="450.90" stroke="#e3e3e3" stroke-width="1.35"/>
<line x1="566.6" y1="497.96" x2="680.5" y2="497.96" stroke="#e3e3e3" stroke-width="1.35"/>
<line x1="622.40" y1="295.4" x2="622.40" y2="531.3" stroke="#a3a3a3" stroke-width="1.1" stroke-dasharray="6 6"/>
<circle cx="452.4" cy="306.1" r="1.6" fill="#e8605a"/>
<circle cx="470.6" cy="339.6" r="1.6" fill="#e8605a"/>
<circle cx="500.3" cy="323.5" r="1.6" fill="#e8605a"/>
<circle cx="479.6" cy="344.4" r="1.6" fill="#e8605a"/>
<circle cx="481.6" cy="347.6" r="1.6" fill="#e8605a"/>
<circle cx="479.2" cy="352.4" r="1.6" fill="#e8605a"/>
<circle cx="479.0" cy="357.7" r="1.6" fill="#e8605a"/>
<circle cx="493.0" cy="352.7" r="1.6" fill="#e8605a"/>
<circle cx="499.3" cy="356.1" r="1.6" fill="#e8605a"/>
<circle cx="494.0" cy="360.4" r="1.6" fill="#e8605a"/>
<circle cx="492.9" cy="363.2" r="1.6" fill="#e8605a"/>
<circle cx="483.9" cy="363.5" r="1.6" fill="#e8605a"/>
<circle cx="485.9" cy="364.5" r="1.6" fill="#e8605a"/>
<circle cx="498.7" cy="365.1" r="1.6" fill="#e8605a"/>
<circle cx="475.5" cy="367.5" r="1.6" fill="#e8605a"/>
<circle cx="480.3" cy="372.9" r="1.6" fill="#e8605a"/>
<circle cx="512.1" cy="359.4" r="1.6" fill="#e8605a"/>
<circle cx="510.0" cy="362.1" r="1.6" fill="#e8605a"/>
<circle cx="535.9" cy="361.7" r="1.6" fill="#e8605a"/>
<circle cx="483.0" cy="379.7" r="1.6" fill="#e8605a"/>
<circle cx="498.4" cy="377.7" r="1.6" fill="#e8605a"/>
<circle cx="503.4" cy="381.1" r="1.6" fill="#e8605a"/>
<circle cx="500.7" cy="390.1" r="1.6" fill="#e8605a"/>
<circle cx="505.4" cy="389.5" r="1.6" fill="#e8605a"/>
<circle cx="462.0" cy="399.8" r="1.6" fill="#e8605a"/>
<circle cx="477.2" cy="397.9" r="1.6" fill="#e8605a"/>
<circle cx="481.9" cy="400.6" r="1.6" fill="#e8605a"/>
<circle cx="477.3" cy="404.9" r="1.6" fill="#e8605a"/>
<circle cx="481.4" cy="405.6" r="1.6" fill="#e8605a"/>
<circle cx="493.6" cy="405.3" r="1.6" fill="#e8605a"/>
<circle cx="500.3" cy="400.9" r="1.6" fill="#e8605a"/>
<circle cx="505.0" cy="400.9" r="1.6" fill="#e8605a"/>
<circle cx="505.0" cy="406.2" r="1.6" fill="#e8605a"/>
<circle cx="496.7" cy="417.4" r="1.6" fill="#e8605a"/>
<circle cx="497.3" cy="421.0" r="1.6" fill="#e8605a"/>
<circle cx="501.0" cy="418.3" r="1.6" fill="#e8605a"/>
<circle cx="503.1" cy="417.2" r="1.6" fill="#e8605a"/>
<circle cx="496.3" cy="427.4" r="1.6" fill="#e8605a"/>
<circle cx="500.4" cy="426.0" r="1.6" fill="#e8605a"/>
<circle cx="492.4" cy="432.8" r="1.6" fill="#e8605a"/>
<circle cx="473.2" cy="438.7" r="1.6" fill="#e8605a"/>
<circle cx="480.2" cy="449.2" r="1.6" fill="#e8605a"/>
<circle cx="509.4" cy="381.4" r="1.6" fill="#e8605a"/>
<circle cx="513.5" cy="380.7" r="1.6" fill="#e8605a"/>
<circle cx="522.5" cy="381.4" r="1.6" fill="#e8605a"/>
<circle cx="512.7" cy="384.1" r="1.6" fill="#e8605a"/>
<circle cx="513.5" cy="386.5" r="1.6" fill="#e8605a"/>
<circle cx="512.1" cy="387.7" r="1.6" fill="#e8605a"/>
<circle cx="513.5" cy="394.8" r="1.6" fill="#e8605a"/>
<circle cx="518.0" cy="397.1" r="1.6" fill="#e8605a"/>
<circle cx="518.0" cy="404.2" r="1.6" fill="#e8605a"/>
<circle cx="508.6" cy="419.4" r="1.6" fill="#e8605a"/>
<circle cx="520.2" cy="420.6" r="1.6" fill="#e8605a"/>
<circle cx="511.1" cy="428.0" r="1.6" fill="#e8605a"/>
<circle cx="509.0" cy="433.4" r="1.6" fill="#e8605a"/>
<circle cx="495.5" cy="453.9" r="1.6" fill="#e8605a"/>
<circle cx="502.1" cy="461.0" r="1.6" fill="#e8605a"/>
<circle cx="506.1" cy="464.2" r="1.6" fill="#e8605a"/>
<circle cx="506.4" cy="470.9" r="1.6" fill="#e8605a"/>
<circle cx="503.9" cy="479.3" r="1.6" fill="#e8605a"/>
<circle cx="512.6" cy="452.4" r="1.6" fill="#e8605a"/>
<circle cx="511.6" cy="461.0" r="1.6" fill="#e8605a"/>
<circle cx="508.2" cy="476.0" r="1.6" fill="#e8605a"/>
<circle cx="517.3" cy="475.7" r="1.6" fill="#e8605a"/>
<circle cx="527.8" cy="485.6" r="1.6" fill="#e8605a"/>
<circle cx="512.6" cy="496.7" r="1.6" fill="#e8605a"/>
<circle cx="520.7" cy="504.4" r="1.6" fill="#e8605a"/>
<circle cx="557.4" cy="517.1" r="1.6" fill="#e8605a"/>
<circle cx="603.6" cy="320.2" r="1.6" fill="#12b0b6"/>
<circle cx="611.9" cy="327.2" r="1.6" fill="#12b0b6"/>
<circle cx="598.9" cy="337.7" r="1.6" fill="#12b0b6"/>
<circle cx="619.0" cy="348.4" r="1.6" fill="#12b0b6"/>
<circle cx="608.3" cy="352.3" r="1.6" fill="#12b0b6"/>
<circle cx="602.9" cy="354.5" r="1.6" fill="#12b0b6"/>
<circle cx="622.4" cy="360.4" r="1.6" fill="#12b0b6"/>
<circle cx="621.3" cy="367.9" r="1.6" fill="#12b0b6"/>
<circle cx="620.4" cy="371.9" r="1.6" fill="#12b0b6"/>
<circle cx="575.4" cy="370.2" r="1.6" fill="#12b0b6"/>
<circle cx="608.0" cy="372.6" r="1.6" fill="#12b0b6"/>
<circle cx="638.4" cy="355.1" r="1.6" fill="#12b0b6"/>
<circle cx="642.8" cy="360.5" r="1.6" fill="#12b0b6"/>
<circle cx="625.1" cy="378.7" r="1.6" fill="#12b0b6"/>
<circle cx="599.3" cy="382.8" r="1.6" fill="#12b0b6"/>
<circle cx="615.7" cy="381.7" r="1.6" fill="#12b0b6"/>
<circle cx="582.8" cy="388.4" r="1.6" fill="#12b0b6"/>
<circle cx="587.9" cy="386.5" r="1.6" fill="#12b0b6"/>
<circle cx="592.8" cy="389.9" r="1.6" fill="#12b0b6"/>
<circle cx="612.7" cy="389.5" r="1.6" fill="#12b0b6"/>
<circle cx="615.4" cy="388.5" r="1.6" fill="#12b0b6"/>
<circle cx="623.7" cy="386.4" r="1.6" fill="#12b0b6"/>
<circle cx="585.1" cy="393.1" r="1.6" fill="#12b0b6"/>
<circle cx="596.5" cy="394.2" r="1.6" fill="#12b0b6"/>
<circle cx="600.6" cy="394.2" r="1.6" fill="#12b0b6"/>
<circle cx="606.0" cy="398.9" r="1.6" fill="#12b0b6"/>
<circle cx="622.4" cy="398.6" r="1.6" fill="#12b0b6"/>
<circle cx="624.7" cy="396.8" r="1.6" fill="#12b0b6"/>
<circle cx="581.8" cy="403.3" r="1.6" fill="#12b0b6"/>
<circle cx="596.6" cy="402.9" r="1.6" fill="#12b0b6"/>
<circle cx="610.0" cy="404.2" r="1.6" fill="#12b0b6"/>
<circle cx="612.6" cy="407.6" r="1.6" fill="#12b0b6"/>
<circle cx="621.4" cy="406.2" r="1.6" fill="#12b0b6"/>
<circle cx="625.1" cy="404.2" r="1.6" fill="#12b0b6"/>
<circle cx="617.0" cy="410.9" r="1.6" fill="#12b0b6"/>
<circle cx="620.8" cy="411.9" r="1.6" fill="#12b0b6"/>
<circle cx="614.7" cy="414.0" r="1.6" fill="#12b0b6"/>
<circle cx="619.7" cy="417.2" r="1.6" fill="#12b0b6"/>
<circle cx="625.1" cy="420.3" r="1.6" fill="#12b0b6"/>
<circle cx="597.1" cy="424.4" r="1.6" fill="#12b0b6"/>
<circle cx="604.5" cy="424.4" r="1.6" fill="#12b0b6"/>
<circle cx="617.0" cy="423.3" r="1.6" fill="#12b0b6"/>
<circle cx="585.5" cy="433.8" r="1.6" fill="#12b0b6"/>
<circle cx="589.8" cy="435.5" r="1.6" fill="#12b0b6"/>
<circle cx="605.2" cy="432.4" r="1.6" fill="#12b0b6"/>
<circle cx="615.7" cy="433.1" r="1.6" fill="#12b0b6"/>
<circle cx="616.3" cy="431.5" r="1.6" fill="#12b0b6"/>
<circle cx="618.8" cy="431.7" r="1.6" fill="#12b0b6"/>
<circle cx="623.4" cy="430.7" r="1.6" fill="#12b0b6"/>
<circle cx="612.3" cy="437.8" r="1.6" fill="#12b0b6"/>
<circle cx="621.7" cy="436.4" r="1.6" fill="#12b0b6"/>
<circle cx="622.1" cy="438.5" r="1.6" fill="#12b0b6"/>
<circle cx="613.2" cy="447.6" r="1.6" fill="#12b0b6"/>
<circle cx="615.0" cy="446.8" r="1.6" fill="#12b0b6"/>
<circle cx="609.2" cy="449.9" r="1.6" fill="#12b0b6"/>
<circle cx="602.2" cy="450.3" r="1.6" fill="#12b0b6"/>
<circle cx="625.8" cy="377.4" r="1.6" fill="#12b0b6"/>
<circle cx="639.2" cy="385.4" r="1.6" fill="#12b0b6"/>
<circle cx="637.7" cy="391.5" r="1.6" fill="#12b0b6"/>
<circle cx="628.4" cy="393.1" r="1.6" fill="#12b0b6"/>
<circle cx="627.4" cy="395.2" r="1.6" fill="#12b0b6"/>
<circle cx="631.4" cy="397.1" r="1.6" fill="#12b0b6"/>
<circle cx="641.5" cy="396.8" r="1.6" fill="#12b0b6"/>
<circle cx="647.1" cy="395.2" r="1.6" fill="#12b0b6"/>
<circle cx="642.4" cy="399.8" r="1.6" fill="#12b0b6"/>
<circle cx="639.9" cy="402.6" r="1.6" fill="#12b0b6"/>
<circle cx="646.2" cy="403.3" r="1.6" fill="#12b0b6"/>
<circle cx="644.1" cy="407.3" r="1.6" fill="#12b0b6"/>
<circle cx="653.3" cy="406.2" r="1.6" fill="#12b0b6"/>
<circle cx="632.7" cy="411.6" r="1.6" fill="#12b0b6"/>
<circle cx="640.4" cy="411.2" r="1.6" fill="#12b0b6"/>
<circle cx="644.4" cy="414.0" r="1.6" fill="#12b0b6"/>
<circle cx="650.5" cy="416.7" r="1.6" fill="#12b0b6"/>
<circle cx="644.4" cy="420.3" r="1.6" fill="#12b0b6"/>
<circle cx="631.4" cy="422.6" r="1.6" fill="#12b0b6"/>
<circle cx="640.4" cy="424.1" r="1.6" fill="#12b0b6"/>
<circle cx="630.7" cy="427.7" r="1.6" fill="#12b0b6"/>
<circle cx="647.1" cy="429.1" r="1.6" fill="#12b0b6"/>
<circle cx="637.0" cy="433.1" r="1.6" fill="#12b0b6"/>
<circle cx="637.4" cy="435.8" r="1.6" fill="#12b0b6"/>
<circle cx="641.9" cy="435.5" r="1.6" fill="#12b0b6"/>
<circle cx="628.0" cy="435.4" r="1.6" fill="#12b0b6"/>
<circle cx="629.4" cy="437.5" r="1.6" fill="#12b0b6"/>
<circle cx="628.4" cy="442.9" r="1.6" fill="#12b0b6"/>
<circle cx="631.1" cy="442.9" r="1.6" fill="#12b0b6"/>
<circle cx="639.4" cy="444.8" r="1.6" fill="#12b0b6"/>
<circle cx="641.9" cy="444.8" r="1.6" fill="#12b0b6"/>
<circle cx="628.0" cy="447.6" r="1.6" fill="#12b0b6"/>
<circle cx="623.6" cy="453.4" r="1.6" fill="#12b0b6"/>
<circle cx="621.4" cy="458.0" r="1.6" fill="#12b0b6"/>
<circle cx="624.8" cy="457.1" r="1.6" fill="#12b0b6"/>
<circle cx="572.9" cy="460.8" r="1.6" fill="#12b0b6"/>
<circle cx="604.4" cy="457.1" r="1.6" fill="#12b0b6"/>
<circle cx="599.4" cy="463.5" r="1.6" fill="#12b0b6"/>
<circle cx="600.6" cy="464.5" r="1.6" fill="#12b0b6"/>
<circle cx="608.0" cy="467.2" r="1.6" fill="#12b0b6"/>
<circle cx="623.2" cy="479.4" r="1.6" fill="#12b0b6"/>
<circle cx="625.1" cy="479.7" r="1.6" fill="#12b0b6"/>
<circle cx="602.6" cy="481.9" r="1.6" fill="#12b0b6"/>
<circle cx="609.4" cy="489.3" r="1.6" fill="#12b0b6"/>
<circle cx="618.5" cy="499.4" r="1.6" fill="#12b0b6"/>
<circle cx="576.0" cy="501.6" r="1.6" fill="#12b0b6"/>
<circle cx="586.2" cy="504.4" r="1.6" fill="#12b0b6"/>
<circle cx="599.3" cy="508.5" r="1.6" fill="#12b0b6"/>
<circle cx="624.8" cy="518.1" r="1.6" fill="#12b0b6"/>
<circle cx="610.3" cy="521.1" r="1.6" fill="#12b0b6"/>
<circle cx="640.9" cy="452.8" r="1.6" fill="#12b0b6"/>
<circle cx="645.2" cy="457.3" r="1.6" fill="#12b0b6"/>
<circle cx="627.9" cy="463.0" r="1.6" fill="#12b0b6"/>
<circle cx="633.8" cy="462.3" r="1.6" fill="#12b0b6"/>
<circle cx="637.1" cy="461.7" r="1.6" fill="#12b0b6"/>
<circle cx="647.4" cy="465.2" r="1.6" fill="#12b0b6"/>
<circle cx="650.1" cy="465.2" r="1.6" fill="#12b0b6"/>
<circle cx="668.3" cy="460.2" r="1.6" fill="#12b0b6"/>
<circle cx="630.9" cy="473.4" r="1.6" fill="#12b0b6"/>
<circle cx="640.0" cy="473.4" r="1.6" fill="#12b0b6"/>
<circle cx="654.5" cy="480.2" r="1.6" fill="#12b0b6"/>
<circle cx="635.0" cy="485.8" r="1.6" fill="#12b0b6"/>
<circle cx="638.6" cy="487.9" r="1.6" fill="#12b0b6"/>
<circle cx="631.6" cy="494.2" r="1.6" fill="#12b0b6"/>
<circle cx="663.8" cy="493.8" r="1.6" fill="#12b0b6"/>
<circle cx="634.9" cy="514.2" r="1.6" fill="#12b0b6"/>
<polygon points="452.80,320.39 455.40,324.95 458.00,329.51 460.60,334.07 463.20,338.61 465.80,343.15 468.40,347.67 471.00,352.17 473.60,356.66 476.20,361.13 478.80,365.56 481.40,369.95 484.00,374.29 486.60,378.56 489.20,382.73 491.80,386.78 494.40,390.64 497.00,394.28 499.60,397.65 502.20,400.72 504.80,403.51 507.40,406.06 510.00,408.42 512.60,410.63 515.20,412.74 517.80,414.77 520.40,416.74 523.00,418.67 525.60,420.56 528.20,422.43 530.80,424.28 533.40,426.11 536.00,427.93 538.60,429.74 541.20,431.54 543.80,433.33 546.40,435.11 549.00,436.89 551.60,438.67 554.20,440.44 556.80,442.21 556.80,506.79 554.20,502.21 551.60,497.63 549.00,493.06 546.40,488.49 543.80,483.92 541.20,479.36 538.60,474.81 536.00,470.27 533.40,465.74 530.80,461.22 528.20,456.72 525.60,452.24 523.00,447.78 520.40,443.36 517.80,438.98 515.20,434.66 512.60,430.42 510.00,426.28 507.40,422.29 504.80,418.49 502.20,414.93 499.60,411.65 497.00,408.67 494.40,405.96 491.80,403.47 489.20,401.17 486.60,398.99 484.00,396.91 481.40,394.90 478.80,392.94 476.20,391.02 473.60,389.14 471.00,387.28 468.40,385.43 465.80,383.60 463.20,381.79 460.60,379.98 458.00,378.19 455.40,376.40 452.80,374.61" fill="#999" fill-opacity="0.5"/>
<line x1="452.8" y1="347.5" x2="556.8" y2="474.5" stroke="#ee6a60" stroke-width="3"/>
<polygon points="573.40,395.72 575.78,397.13 578.16,398.55 580.55,399.96 582.93,401.36 585.31,402.76 587.69,404.15 590.08,405.54 592.46,406.92 594.84,408.28 597.23,409.63 599.61,410.97 601.99,412.28 604.37,413.57 606.75,414.82 609.14,416.02 611.52,417.17 613.90,418.23 616.28,419.20 618.67,420.04 621.05,420.74 623.43,421.27 625.82,421.65 628.20,421.89 630.58,422.01 632.96,422.03 635.35,421.97 637.73,421.86 640.11,421.71 642.49,421.52 644.88,421.31 647.26,421.08 649.64,420.83 652.02,420.56 654.41,420.29 656.79,420.01 659.17,419.72 661.55,419.42 663.94,419.12 666.32,418.81 668.70,418.51 668.70,455.09 666.32,453.68 663.94,452.27 661.55,450.86 659.17,449.46 656.79,448.07 654.41,446.68 652.02,445.30 649.64,443.93 647.26,442.58 644.88,441.24 642.49,439.92 640.11,438.63 637.73,437.37 635.35,436.16 632.96,435.00 630.58,433.91 628.20,432.93 625.82,432.06 623.43,431.33 621.05,430.76 618.67,430.35 616.28,430.09 613.90,429.95 611.52,429.91 609.14,429.95 606.75,430.05 604.37,430.20 601.99,430.38 599.61,430.59 597.23,430.82 594.84,431.06 592.46,431.32 590.08,431.59 587.69,431.88 585.31,432.16 582.93,432.46 580.55,432.76 578.16,433.06 575.78,433.37 573.40,433.68" fill="#999" fill-opacity="0.5"/>
<line x1="573.4" y1="414.7" x2="668.7" y2="436.8" stroke="#0fb1b7" stroke-width="3"/>
<rect x="459.9" y="298.4" width="99.90" height="47.3" rx="3.5" ry="3.5" fill="#d0d1d3" fill-opacity="0.82"/>
<text x="557.60" y="308.90" font-size="12.3" text-anchor="end" fill="#231f20" font-weight="normal" font-style="normal" textLength="96.00" lengthAdjust="spacingAndGlyphs">Pearson <tspan font-style="italic">r</tspan> = -0.48</text>
<text x="470.90" y="326.50" font-size="12.3" text-anchor="start" fill="#231f20" font-weight="normal" font-style="normal" textLength="73.10" lengthAdjust="spacingAndGlyphs"><tspan font-style="italic">p</tspan> = 2.49 × 10</text>
<text x="544.00" y="319.90" font-size="10.4" text-anchor="start" fill="#231f20" font-weight="normal" font-style="normal" textLength="14.00" lengthAdjust="spacingAndGlyphs">-05</text>
<text x="557.60" y="342.60" font-size="12.3" text-anchor="end" fill="#231f20" font-weight="normal" font-style="normal" textLength="36.90" lengthAdjust="spacingAndGlyphs">N = 69</text>
<rect x="578.1" y="298.4" width="99.30" height="47.3" rx="3.5" ry="3.5" fill="#d0d1d3" fill-opacity="0.82"/>
<text x="675.70" y="308.90" font-size="12.3" text-anchor="end" fill="#231f20" font-weight="normal" font-style="normal" textLength="94.50" lengthAdjust="spacingAndGlyphs">Pearson <tspan font-style="italic">r</tspan> = -0.11</text>
<text x="675.70" y="326.50" font-size="12.3" text-anchor="end" fill="#231f20" font-weight="normal" font-style="normal" textLength="48.00" lengthAdjust="spacingAndGlyphs"><tspan font-style="italic">p</tspan> = 0.21</text>
<text x="675.70" y="342.60" font-size="12.3" text-anchor="end" fill="#231f20" font-weight="normal" font-style="normal" textLength="42.50" lengthAdjust="spacingAndGlyphs">N = 128</text>
<rect x="448.0" y="295.4" width="114.40" height="235.90" fill="none" stroke="#333" stroke-width="1.1"/>
<rect x="448.0" y="282.6" width="114.40" height="12.8" fill="#fff" stroke="#333" stroke-width="1.1"/>
<text x="505.20" y="291.90" font-size="8.7" text-anchor="middle" fill="#1a1a1a" font-weight="normal" font-style="normal">Exposed</text>
<line x1="475.62" y1="531.3" x2="475.62" y2="534.0" stroke="#333" stroke-width="1.1"/>
<text x="475.62" y="540.30" font-size="8.5" text-anchor="middle" fill="#4d4d4d" font-weight="normal" font-style="normal">−0.4</text>
<line x1="504.10" y1="531.3" x2="504.10" y2="534.0" stroke="#333" stroke-width="1.1"/>
<text x="504.10" y="540.30" font-size="8.5" text-anchor="middle" fill="#4d4d4d" font-weight="normal" font-style="normal">0.0</text>
<line x1="532.58" y1="531.3" x2="532.58" y2="534.0" stroke="#333" stroke-width="1.1"/>
<text x="532.58" y="540.30" font-size="8.5" text-anchor="middle" fill="#4d4d4d" font-weight="normal" font-style="normal">0.4</text>
<line x1="561.06" y1="531.3" x2="561.06" y2="534.0" stroke="#333" stroke-width="1.1"/>
<text x="561.06" y="540.30" font-size="8.5" text-anchor="middle" fill="#4d4d4d" font-weight="normal" font-style="normal">0.8</text>
<rect x="566.6" y="295.4" width="113.90" height="235.90" fill="none" stroke="#333" stroke-width="1.1"/>
<rect x="566.6" y="282.6" width="113.90" height="12.8" fill="#fff" stroke="#333" stroke-width="1.1"/>
<text x="623.55" y="291.90" font-size="8.7" text-anchor="middle" fill="#1a1a1a" font-weight="normal" font-style="normal">Unexposed</text>
<line x1="593.92" y1="531.3" x2="593.92" y2="534.0" stroke="#333" stroke-width="1.1"/>
<text x="593.92" y="540.30" font-size="8.5" text-anchor="middle" fill="#4d4d4d" font-weight="normal" font-style="normal">−0.4</text>
<line x1="622.40" y1="531.3" x2="622.40" y2="534.0" stroke="#333" stroke-width="1.1"/>
<text x="622.40" y="540.30" font-size="8.5" text-anchor="middle" fill="#4d4d4d" font-weight="normal" font-style="normal">0.0</text>
<line x1="650.88" y1="531.3" x2="650.88" y2="534.0" stroke="#333" stroke-width="1.1"/>
<text x="650.88" y="540.30" font-size="8.5" text-anchor="middle" fill="#4d4d4d" font-weight="normal" font-style="normal">0.4</text>
<line x1="679.36" y1="531.3" x2="679.36" y2="534.0" stroke="#333" stroke-width="1.1"/>
<text x="679.36" y="540.30" font-size="8.5" text-anchor="middle" fill="#4d4d4d" font-weight="normal" font-style="normal">0.8</text>
<line x1="445.5" y1="309.72" x2="448.0" y2="309.72" stroke="#333" stroke-width="1.1"/>
<text x="444.60" y="312.72" font-size="8.5" text-anchor="end" fill="#4d4d4d" font-weight="normal" font-style="normal">5.6</text>
<line x1="445.5" y1="356.78" x2="448.0" y2="356.78" stroke="#333" stroke-width="1.1"/>
<text x="444.60" y="359.78" font-size="8.5" text-anchor="end" fill="#4d4d4d" font-weight="normal" font-style="normal">5.4</text>
<line x1="445.5" y1="403.84" x2="448.0" y2="403.84" stroke="#333" stroke-width="1.1"/>
<text x="444.60" y="406.84" font-size="8.5" text-anchor="end" fill="#4d4d4d" font-weight="normal" font-style="normal">5.2</text>
<line x1="445.5" y1="450.90" x2="448.0" y2="450.90" stroke="#333" stroke-width="1.1"/>
<text x="444.60" y="453.90" font-size="8.5" text-anchor="end" fill="#4d4d4d" font-weight="normal" font-style="normal">5.0</text>
<line x1="445.5" y1="497.96" x2="448.0" y2="497.96" stroke="#333" stroke-width="1.1"/>
<text x="444.60" y="500.96" font-size="8.5" text-anchor="end" fill="#4d4d4d" font-weight="normal" font-style="normal">4.8</text>
<text x="572.65" y="552.30" font-size="11" text-anchor="middle" fill="#000" font-weight="normal" font-style="normal" textLength="175.10" lengthAdjust="spacingAndGlyphs">cg20370568 methylation (M-values)</text>
<text x="426.1" y="413.3" font-size="11" text-anchor="middle" transform="rotate(-90 426.1 413.3)" textLength="169.8" lengthAdjust="spacingAndGlyphs"><tspan font-style="italic">ANTXR2</tspan> expression levels (TPMs)</text>
<text x="451.70" y="576.40" font-size="11.9" text-anchor="start" fill="#000" font-weight="normal" font-style="normal" textLength="84.00" lengthAdjust="spacingAndGlyphs">Body−trunk−RT</text>
<rect x="548.7" y="568.1" width="10.6" height="10.2" fill="#cfcfcf"/>
<line x1="549.7" y1="573.1" x2="558.3" y2="573.1" stroke="#ee6a60" stroke-width="2.2"/>
<text x="563.00" y="576.90" font-size="9.56" text-anchor="start" fill="#000" font-weight="normal" font-style="normal" textLength="37.20" lengthAdjust="spacingAndGlyphs">Exposed</text>
<rect x="615.3" y="568.1" width="10.6" height="10.2" fill="#cfcfcf"/>
<line x1="616.3" y1="573.1" x2="624.9" y2="573.1" stroke="#0fb1b7" stroke-width="2.2"/>
<text x="629.40" y="576.90" font-size="9.56" text-anchor="start" fill="#000" font-weight="normal" font-style="normal" textLength="48.40" lengthAdjust="spacingAndGlyphs">Unexposed</text>
</g>
</svg>
</body></html>
